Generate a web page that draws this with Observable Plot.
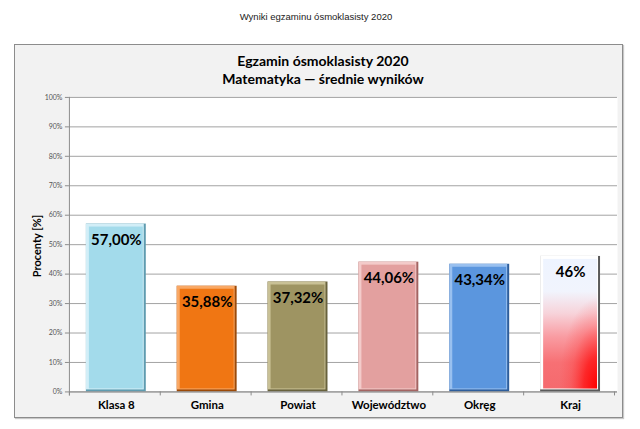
<!DOCTYPE html>
<html>
<head>
<meta charset="utf-8">
<script src="https://cdn.jsdelivr.net/npm/d3@7"></script>
<script src="https://cdn.jsdelivr.net/npm/@observablehq/plot@0.6"></script>
<style>
  html, body { margin: 0; padding: 0; background: #ffffff; overflow: hidden; }
  #page-title { position: absolute; left: 0; top: 11px; width: 632px; text-align: center;
    font-family: "Liberation Sans", Arial, sans-serif; font-size: 9.5px; color: #222; }
  #frame { position: absolute; left: 14px; top: 44px; width: 607px; height: 372px;
    background: #f2f2f2; border: 1px solid #8c8c8c; box-shadow: 1px 1px 1px #c8c8c8; }
  #chart-title { position: absolute; left: 0; top: 7px; width: 616px; text-align: center;
    font-family: Lato, "Open Sans", sans-serif; font-weight: bold; font-size: 14px; line-height: 18px; color: #000; }
  #ylabel { position: absolute; left: 21px; top: 201px; transform: translate(-50%, -50%) rotate(-90deg);
    font-family: Lato, "Open Sans", sans-serif; font-weight: bold; font-size: 11px; white-space: nowrap; color: #000; }
  #plot { position: absolute; left: -1px; top: -1px; }
</style>
</head>
<body>
<div id="page-title">Wyniki egzaminu ósmoklasisty 2020</div>
<div id="frame">
  <div id="plot"></div>
  <div id="chart-title">Egzamin ósmoklasisty 2020<br>Matematyka — średnie wyników</div>
  <div id="ylabel">Procenty [%]</div>
</div>
<script>
const categories = ["Klasa 8", "Gmina", "Powiat", "Województwo", "Okręg", "Kraj"];
const values = [57.00, 35.88, 37.32, 44.06, 43.34, 46];
const valueLabels = ["57,00%", "35,88%", "37,32%", "44,06%", "43,34%", "46%"];
const faceColors = ["#a3dbeb", "#f07613", "#9e9462", "#e3a09f", "#5b96de", "url(#krajLin)"];
const overlayColors = ["none", "none", "none", "none", "none", "url(#krajRad)"];
const lightColors = ["#d2eef7", "#f9a865", "#c9c196", "#f3cbca", "#99c0ef", "#ffffff"];
const darkColors = ["#5f9cb0", "#9c4a08", "#68623d", "#a46462", "#2e5e9c", "#5a5a5a"];
const yTicks = [0, 10, 20, 30, 40, 50, 60, 70, 80, 90, 100];

const data = categories.map((c, i) => ({
  c, v: values[i], label: valueLabels[i],
  face: faceColors[i], overlay: overlayColors[i], light: lightColors[i], dark: darkColors[i]
}));

const fontFamily = 'Lato, "Open Sans", sans-serif';

const plot = Plot.plot({
  width: 609,
  height: 374,
  marginLeft: 55,
  marginRight: 5,
  marginTop: 53,
  marginBottom: 26,
  style: { background: "transparent", fontFamily, overflow: "visible" },
  x: { domain: categories, paddingInner: 0.34, paddingOuter: 0.17 },
  y: { domain: [0, 100] },
  color: { type: "identity" },
  marks: [
    Plot.frame({ fill: "white", stroke: null }),
    Plot.ruleY(yTicks, { stroke: "#a3a3a3", strokeWidth: 1 }),
    Plot.barY(data, { x: "c", y: "v", fill: "dark" }),
    Plot.barY(data, { x: "c", y: "v", fill: "light", insetRight: 2, insetBottom: 2 }),
    Plot.barY(data, { x: "c", y: "v", fill: "face", inset: 3 }),
    Plot.barY(data, { x: "c", y: "v", fill: "overlay", inset: 3 }),
    Plot.text(data, { x: "c", y: "v", text: "label", dy: 16, fontSize: 15, fontWeight: "bold", fill: "#000" }),
    Plot.axisY({ ticks: yTicks, tickFormat: d => d + "%", tickSize: 4, tickPadding: 3,
      fontSize: 7, fill: "#555", stroke: "#8c8c8c", label: null }),
    Plot.axisX({ tickSize: 0, tickPadding: 9, fontSize: 11.5, fontWeight: "bold", fill: "#000", label: null })
  ]
});

document.getElementById("plot").appendChild(plot);

const svg = d3.select(plot.tagName.toLowerCase() === "svg" ? plot : plot.querySelector("svg"));

// gradients for "Kraj"
const defs = svg.insert("defs", ":first-child");
const lin = defs.append("linearGradient").attr("id", "krajLin")
  .attr("x1", "0").attr("y1", "0").attr("x2", "0").attr("y2", "1");
[["0%", "#eef4ff"], ["25%", "#f1f4fd"], ["42%", "#f7d3da"], ["60%", "#f99ca2"],
 ["80%", "#f77074"], ["100%", "#f56a6e"]].forEach(([o, c]) =>
  lin.append("stop").attr("offset", o).attr("stop-color", c));
const rad = defs.append("radialGradient").attr("id", "krajRad")
  .attr("cx", "100%").attr("cy", "100%").attr("r", "70%").attr("fx", "100%").attr("fy", "100%");
[["0%", "#ff0000", 1], ["35%", "#ff1010", 0.75], ["70%", "#ff3030", 0.25], ["100%", "#ff4040", 0]].forEach(([o, c, a]) =>
  rad.append("stop").attr("offset", o).attr("stop-color", c).attr("stop-opacity", a));

// axis lines and category boundary ticks from the library's scales
const xs = plot.scale("x");
const ys = plot.scale("y");
const [x0, x1] = xs.range;
const yBase = ys.apply(0), yTop = ys.apply(100);
const axes = svg.append("g").attr("stroke", "#8c8c8c").attr("stroke-width", 1);
axes.append("line").attr("x1", x0 + 0.5).attr("x2", x0 + 0.5).attr("y1", yTop).attr("y2", yBase + 4);
axes.append("line").attr("x1", x0).attr("x2", x1).attr("y1", yBase + 0.5).attr("y2", yBase + 0.5);
for (let k = 0; k <= categories.length; k++) {
  const xb = Math.round(x0 + k * xs.step) + 0.5;
  axes.append("line").attr("x1", xb).attr("x2", xb).attr("y1", yBase).attr("y2", yBase + 4);
}
</script>
</body>
</html>
